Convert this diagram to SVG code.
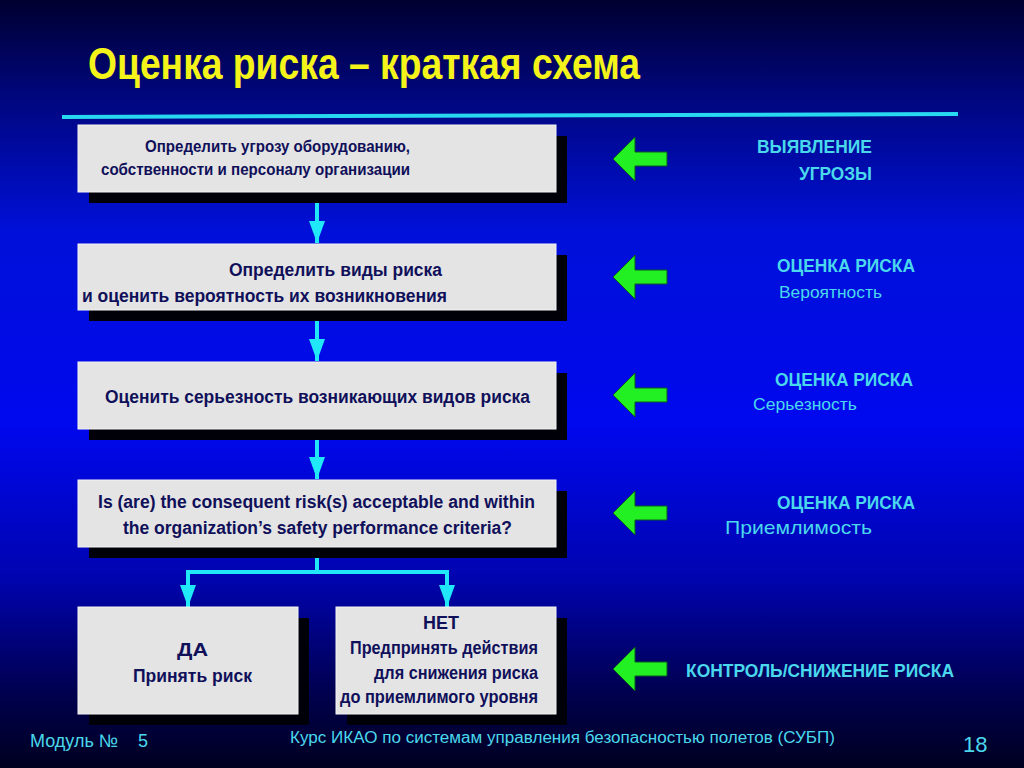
<svg xmlns="http://www.w3.org/2000/svg" width="1024" height="768" viewBox="0 0 1024 768">
<defs>
<linearGradient id="bg" x1="0" y1="0" x2="0" y2="1">
<stop offset="0" stop-color="#000030"/>
<stop offset="0.12" stop-color="#00067a"/>
<stop offset="0.3" stop-color="#0010d8"/>
<stop offset="0.55" stop-color="#0008ee"/>
<stop offset="0.75" stop-color="#0004b0"/>
<stop offset="0.9" stop-color="#000050"/>
<stop offset="1" stop-color="#000020"/>
</linearGradient>
<marker id="ah" viewBox="0 0 22 16" refX="22" refY="8" markerWidth="22" markerHeight="16" markerUnits="userSpaceOnUse" orient="auto">
<path d="M0,0 L22,8 L0,16 Z" fill="#20e8f8"/>
</marker>
<path id="garrow" d="M0,0 L22,-22 L22,-7 L54,-7 L54,7 L22,7 L22,22 Z" fill="#22f022" stroke="#0a5a20" stroke-width="1"/>
</defs>
<style>
.box{fill:#e4e4e4;stroke:#f4f4f4;stroke-width:1}
.sh{fill:#000008}
.bt{font-family:"Liberation Sans Narrow","Liberation Sans",Arial,sans-serif;font-weight:bold;fill:#10105a}
.cy{font-family:"Liberation Sans Narrow","Liberation Sans",Arial,sans-serif;fill:#4ad8ec}
.b{font-weight:bold}
.con{stroke:#20e8f8;stroke-width:4;fill:none}
</style>
<rect width="1024" height="768" fill="url(#bg)"/>
<text x="88" y="79" font-family="'Liberation Sans Narrow','Liberation Sans',Arial,sans-serif" font-weight="bold" font-size="44" fill="#f4f41a" textLength="552" lengthAdjust="spacingAndGlyphs">Оценка риска – краткая схема</text>
<line x1="62" y1="117" x2="958" y2="114" stroke="#28d8f0" stroke-width="4"/>

<g id="connectors">
<line class="con" x1="317" y1="203" x2="317" y2="243" marker-end="url(#ah)"/>
<line class="con" x1="317" y1="321" x2="317" y2="361" marker-end="url(#ah)"/>
<line class="con" x1="317" y1="440" x2="317" y2="479" marker-end="url(#ah)"/>
<polyline class="con" points="317,547 317,572"/>
<polyline class="con" points="188,572 447,572"/>
<line class="con" x1="188" y1="570" x2="188" y2="607" marker-end="url(#ah)"/>
<line class="con" x1="447" y1="570" x2="447" y2="607" marker-end="url(#ah)"/>
</g>

<g id="n1">
<rect class="sh" x="89" y="136" width="478" height="67"/>
<rect class="box" x="78" y="125" width="478" height="67"/>
<text class="bt" font-size="16" x="145" y="152" textLength="265" lengthAdjust="spacingAndGlyphs">Определить угрозу оборудованию,</text>
<text class="bt" font-size="16" x="101" y="175" textLength="309" lengthAdjust="spacingAndGlyphs">собственности и персоналу организации</text>
</g>
<g id="n2">
<rect class="sh" x="89" y="255" width="478" height="66"/>
<rect class="box" x="78" y="244" width="478" height="66"/>
<text class="bt" font-size="18" x="229" y="276" textLength="213" lengthAdjust="spacingAndGlyphs">Определить виды риска</text>
<text class="bt" font-size="18" x="82" y="302" textLength="365" lengthAdjust="spacingAndGlyphs">и оценить вероятность их возникновения</text>
</g>
<g id="n3">
<rect class="sh" x="89" y="373" width="478" height="67"/>
<rect class="box" x="78" y="362" width="478" height="67"/>
<text class="bt" font-size="18" x="105" y="403" textLength="425" lengthAdjust="spacingAndGlyphs">Оценить серьезность возникающих видов риска</text>
</g>
<g id="n4">
<rect class="sh" x="89" y="491" width="478" height="67"/>
<rect class="box" x="78" y="480" width="478" height="67"/>
<text class="bt" font-size="18" x="98" y="508" textLength="437" lengthAdjust="spacingAndGlyphs">Is (are) the consequent risk(s) acceptable and within</text>
<text class="bt" font-size="18" x="123" y="534" textLength="389" lengthAdjust="spacingAndGlyphs">the organization’s safety performance criteria?</text>
</g>
<g id="n5">
<rect class="sh" x="89" y="618" width="220" height="107"/>
<rect class="box" x="78" y="607" width="220" height="107"/>
<text class="bt" font-size="19" x="177" y="656" textLength="31" lengthAdjust="spacingAndGlyphs">ДА</text>
<text class="bt" font-size="19" x="133" y="682" textLength="119" lengthAdjust="spacingAndGlyphs">Принять риск</text>
</g>
<g id="n6">
<rect class="sh" x="347" y="618" width="220" height="107"/>
<rect class="box" x="336" y="607" width="220" height="107"/>
<text class="bt" font-size="19" x="423" y="629" textLength="36" lengthAdjust="spacingAndGlyphs">НЕТ</text>
<text class="bt" font-size="18" x="350" y="654" textLength="188" lengthAdjust="spacingAndGlyphs">Предпринять действия</text>
<text class="bt" font-size="18" x="374" y="679" textLength="164" lengthAdjust="spacingAndGlyphs">для снижения риска</text>
<text class="bt" font-size="18" x="340" y="703" textLength="198" lengthAdjust="spacingAndGlyphs">до приемлимого уровня</text>
</g>

<g id="labels">
<use href="#garrow" x="613" y="159"/>
<use href="#garrow" x="613" y="277"/>
<use href="#garrow" x="613" y="395"/>
<use href="#garrow" x="613" y="513"/>
<use href="#garrow" x="613" y="669"/>
<text class="cy b" font-size="18" x="757" y="153" textLength="115" lengthAdjust="spacingAndGlyphs">ВЫЯВЛЕНИЕ</text>
<text class="cy b" font-size="18" x="799" y="180" textLength="73" lengthAdjust="spacingAndGlyphs">УГРОЗЫ</text>
<text class="cy b" font-size="18" x="777" y="272" textLength="138" lengthAdjust="spacingAndGlyphs">ОЦЕНКА РИСКА</text>
<text class="cy" font-size="17" x="779" y="298" textLength="103" lengthAdjust="spacingAndGlyphs">Вероятность</text>
<text class="cy b" font-size="18" x="775" y="386" textLength="138" lengthAdjust="spacingAndGlyphs">ОЦЕНКА РИСКА</text>
<text class="cy" font-size="17" x="753" y="410" textLength="104" lengthAdjust="spacingAndGlyphs">Серьезность</text>
<text class="cy b" font-size="18" x="777" y="509" textLength="138" lengthAdjust="spacingAndGlyphs">ОЦЕНКА РИСКА</text>
<text class="cy" font-size="19" x="725" y="534" textLength="147" lengthAdjust="spacingAndGlyphs">Приемлимость</text>
<text class="cy b" font-size="18" x="686" y="677" textLength="268" lengthAdjust="spacingAndGlyphs">КОНТРОЛЬ/СНИЖЕНИЕ РИСКА</text>
</g>

<g id="footer">
<text class="cy" font-size="18" x="30" y="747" font-family="'Liberation Sans',Arial,sans-serif">Модуль №<tspan x="138">5</tspan></text>
<text class="cy" font-size="16" x="290" y="743" textLength="545" lengthAdjust="spacingAndGlyphs" font-family="'Liberation Sans',Arial,sans-serif">Курс ИКАО по системам управления безопасностью полетов (СУБП)</text>
<text class="cy" font-size="22" x="963" y="752" font-family="'Liberation Sans',Arial,sans-serif">18</text>
</g>
</svg>
